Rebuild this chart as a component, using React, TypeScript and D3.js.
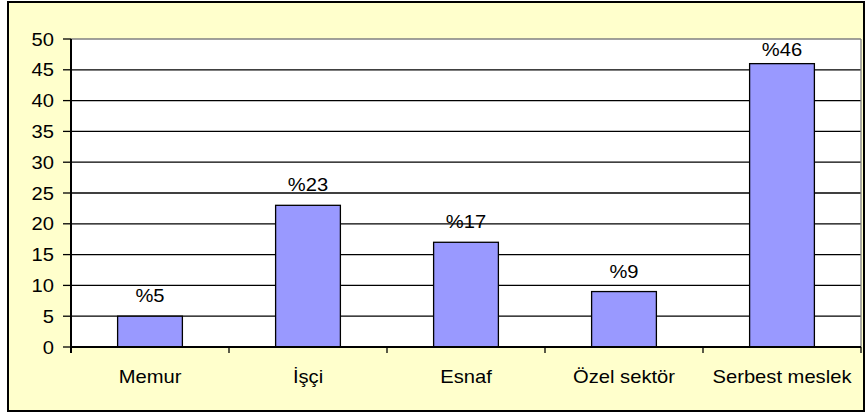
import React from "react";
import * as d3 from "d3";

const categories = ["Memur", "İşçi", "Esnaf", "Özel sektör", "Serbest meslek"];
const values = [5, 23, 17, 9, 46];
const labels = ["%5", "%23", "%17", "%9", "%46"];
const yTicks = [0, 5, 10, 15, 20, 25, 30, 35, 40, 45, 50];

const W = 867;
const H = 415;
const plot = { left: 71, right: 861, top: 39, bottom: 347 };
const FONT = "Arial, 'Liberation Sans', Helvetica, sans-serif";
const SX = 1.12;

export default function App() {
  const x = d3
    .scaleBand<string>()
    .domain(categories)
    .range([plot.left, plot.right])
    .paddingInner(0)
    .paddingOuter(0);
  const y = d3.scaleLinear().domain([0, 50]).range([plot.bottom, plot.top]);
  const bw = x.bandwidth() * 0.41;

  const txt = (s: string, tx: number, ty: number, anchor: string, key: string) => (
    <text
      key={key}
      transform={`translate(${tx},${ty}) scale(${SX},1)`}
      textAnchor={anchor}
      fontFamily={FONT}
      fontSize={18}
      fill="#000"
    >
      {s}
    </text>
  );

  return (
    <svg
      width={W}
      height={H}
      style={{ position: "absolute", left: 0, top: 0 }}
    >
      <rect x={0} y={0} width={W} height={H} fill="#fff" />
      <rect x={8} y={2} width={856} height={409} fill="#FFFFCC" stroke="#000" strokeWidth={2} />
      <rect
        x={plot.left}
        y={plot.top}
        width={plot.right - plot.left}
        height={plot.bottom - plot.top}
        fill="#fff"
      />
      {/* gridlines */}
      {yTicks
        .filter((t) => t !== 0 && t !== 50)
        .map((t) => (
          <line
            key={"g" + t}
            x1={plot.left}
            x2={plot.right}
            y1={y(t)}
            y2={y(t)}
            stroke="#000"
            strokeWidth={1.3}
          />
        ))}
      {/* plot border top/right */}
      <line x1={plot.left} x2={plot.right} y1={plot.top} y2={plot.top} stroke="#808080" strokeWidth={1.3} />
      <line x1={plot.right} x2={plot.right} y1={plot.top} y2={plot.bottom} stroke="#808080" strokeWidth={1.3} />
      {/* bars */}
      {categories.map((c, i) => {
        const cx = (x(c) as number) + x.bandwidth() / 2;
        return (
          <rect
            key={"b" + c}
            x={cx - bw / 2}
            y={y(values[i])}
            width={bw}
            height={y(0) - y(values[i])}
            fill="#9999FF"
            stroke="#000"
            strokeWidth={1.3}
          />
        );
      })}
      {/* bar labels */}
      {categories.map((c, i) => {
        const cx = (x(c) as number) + x.bandwidth() / 2;
        const by = Math.max(y(values[i]) - 14, plot.top + 17);
        return txt(labels[i], cx, by, "middle", "l" + c);
      })}
      {/* y axis */}
      <line x1={plot.left} x2={plot.left} y1={plot.top} y2={plot.bottom + 6} stroke="#000" strokeWidth={2} />
      {yTicks.map((t) => (
        <g key={"yt" + t}>
          <line x1={plot.left - 8} x2={plot.left} y1={y(t)} y2={y(t)} stroke="#000" strokeWidth={1.3} />
          {txt(String(t), plot.left - 17, y(t) + 6.5, "end", "yl" + t)}
        </g>
      ))}
      {/* x axis */}
      <line x1={plot.left} x2={plot.right} y1={plot.bottom} y2={plot.bottom} stroke="#000" strokeWidth={2} />
      {[...categories.map((c) => x(c) as number), plot.right].map((px, i) => (
        <line key={"xt" + i} x1={px} x2={px} y1={plot.bottom} y2={plot.bottom + 6} stroke="#000" strokeWidth={1.3} />
      ))}
      {categories.map((c) =>
        txt(c, (x(c) as number) + x.bandwidth() / 2, 383, "middle", "xl" + c)
      )}
    </svg>
  );
}
